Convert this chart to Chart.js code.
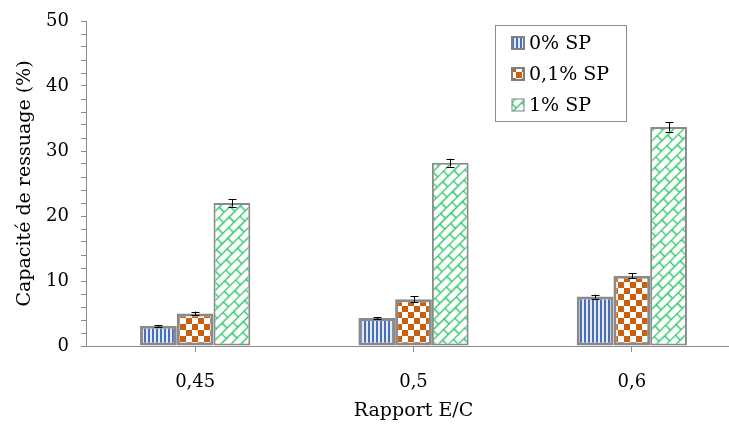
<!DOCTYPE html>
<html>
<head>
    <style>
        html, body { margin: 0; padding: 0; background: #ffffff; overflow: hidden; }
        #wrap { width: 729px; height: 426px; overflow: hidden; }
        #chart { display: block; }
    </style>
</head>
<body>
    <div id="wrap"><canvas id="chart" width="745" height="426"></canvas></div>
    <script src="https://cdn.jsdelivr.net/npm/chart.js"></script>
    <script>
        // données
        var categories = ['0,45', '0,5', '0,6'];
        var seriesNames = ['0% SP', '0,1% SP', '1% SP'];
        var sp0 = [3.1, 4.3, 7.6];
        var sp01 = [5.0, 7.2, 10.8];
        var sp1 = [22.0, 28.2, 33.7];
        var err0 = [0.15, 0.15, 0.3];
        var err01 = [0.3, 0.45, 0.4];
        var err1 = [0.55, 0.6, 0.7];
        var yTicks = [0, 10, 20, 30, 40, 50];

        var serif = "'DejaVu Serif', 'Liberation Serif', serif";

        function makeTile(w, h, draw) {
            var c = document.createElement('canvas');
            c.width = w; c.height = h;
            var g = c.getContext('2d');
            g.fillStyle = '#ffffff';
            g.fillRect(0, 0, w, h);
            draw(g);
            return c;
        }
        var tmp = document.createElement('canvas').getContext('2d');

        // rayures verticales bleues
        var blueTile = makeTile(4, 4, function (g) {
            g.fillStyle = '#4a6fb8';
            g.fillRect(0, 0, 2, 4);
            g.fillStyle = '#e3e9f6';
            g.fillRect(2, 0, 2, 4);
        });
        var bluePattern = tmp.createPattern(blueTile, 'repeat');

        // damier orange
        var orangeTile = makeTile(12, 12, function (g) {
            g.fillStyle = '#c8600f';
            g.fillRect(0, 0, 6, 6);
            g.fillRect(6, 6, 6, 6);
        });
        var orangePattern = tmp.createPattern(orangeTile, 'repeat');

        // briques diagonales vertes
        var greenTile = makeTile(16, 14, function (g) {
            g.strokeStyle = '#2cc768';
            g.lineWidth = 1.5;
            g.beginPath();
            g.moveTo(0, 0.5); g.lineTo(16, 0.5);
            g.moveTo(0, 7.5); g.lineTo(16, 7.5);
            g.moveTo(0.5, 0); g.lineTo(0.5, 7);
            g.moveTo(8.5, 7); g.lineTo(8.5, 14);
            g.stroke();
        });
        var greenPattern = tmp.createPattern(greenTile, 'repeat');
        greenPattern.setTransform(new DOMMatrix().rotate(-45));

        var patterns = [bluePattern, orangePattern, greenPattern];
        var borders = [3, 3, 2];
        var errors = [err0, err01, err1];

        var errorBars = {
            id: 'errorBars',
            afterDatasetsDraw: function (chart) {
                var ctx = chart.ctx;
                var y = chart.scales.y;
                ctx.save();
                ctx.strokeStyle = '#000000';
                ctx.lineWidth = 1;
                chart.data.datasets.forEach(function (ds, di) {
                    var meta = chart.getDatasetMeta(di);
                    meta.data.forEach(function (bar, i) {
                        var v = ds.data[i], e = errors[di][i];
                        var top = y.getPixelForValue(v + e);
                        var bot = y.getPixelForValue(v - e);
                        var x = Math.round(bar.x) + 0.5;
                        ctx.beginPath();
                        ctx.moveTo(x, top); ctx.lineTo(x, bot);
                        ctx.moveTo(x - 4, Math.round(top) + 0.5); ctx.lineTo(x + 4, Math.round(top) + 0.5);
                        ctx.moveTo(x - 4, Math.round(bot) + 0.5); ctx.lineTo(x + 4, Math.round(bot) + 0.5);
                        ctx.stroke();
                    });
                });
                ctx.restore();
            }
        };

        var boxLegend = {
            id: 'boxLegend',
            afterDraw: function (chart) {
                var ctx = chart.ctx;
                ctx.save();
                ctx.fillStyle = '#ffffff';
                ctx.fillRect(495, 25, 131, 96);
                ctx.strokeStyle = '#8c8c8c';
                ctx.lineWidth = 1;
                ctx.strokeRect(495.5, 25.5, 131, 96);
                ctx.font = '19px ' + serif;
                ctx.textBaseline = 'middle';
                seriesNames.forEach(function (name, i) {
                    var cy = 43 + i * 31;
                    ctx.fillStyle = patterns[i];
                    ctx.fillRect(512, cy - 6, 12, 12);
                    ctx.strokeStyle = '#808080';
                    ctx.lineWidth = i < 2 ? 2 : 1;
                    ctx.strokeRect(512, cy - 6, 12, 12);
                    ctx.fillStyle = '#000000';
                    ctx.fillText(name, 529, cy + 1);
                });
                ctx.restore();
            }
        };

        var datasets = [sp0, sp01, sp1].map(function (vals, i) {
            return {
                label: seriesNames[i],
                data: vals,
                backgroundColor: patterns[i],
                borderColor: '#8a8a8a',
                borderWidth: borders[i],
                borderSkipped: false,
                barPercentage: 1,
                categoryPercentage: 0.505
            };
        });

        new Chart(document.getElementById('chart'), {
            type: 'bar',
            data: { labels: categories, datasets: datasets },
            plugins: [errorBars, boxLegend],
            options: {
                responsive: false,
                animation: false,
                layout: { padding: { top: 19, right: 4, left: 0, bottom: 0 } },
                plugins: { legend: { display: false }, tooltip: { enabled: false } },
                scales: {
                    x: {
                        grid: { offset: false, drawOnChartArea: false, color: '#8c8c8c', tickLength: 6 },
                        border: { color: '#8c8c8c', width: 1 },
                        ticks: { color: '#000000', font: { family: serif, size: 18 }, padding: 20 },
                        title: { display: true, text: 'Rapport E/C', color: '#000000', font: { family: serif, size: 19 }, padding: { top: 4, bottom: 4 } },
                        afterFit: function (s) { s.height = 80; }
                    },
                    y: {
                        min: 0,
                        max: 50,
                        grid: { drawOnChartArea: false, color: '#8c8c8c', tickLength: 5 },
                        border: { color: '#8c8c8c', width: 1 },
                        ticks: {
                            stepSize: 2,
                            autoSkip: false,
                            color: '#000000',
                            font: { family: serif, size: 18, lineHeight: 1 },
                            padding: 12,
                            callback: function (v) { return yTicks.indexOf(v) >= 0 ? String(v) : ''; }
                        },
                        title: { display: true, text: 'Capacité de ressuage (%)', color: '#000000', font: { family: serif, size: 19 }, padding: { top: 14, bottom: 2 } },
                        afterFit: function (s) { s.width = 86; }
                    }
                }
            }
        });
    </script>
</body>
</html>
